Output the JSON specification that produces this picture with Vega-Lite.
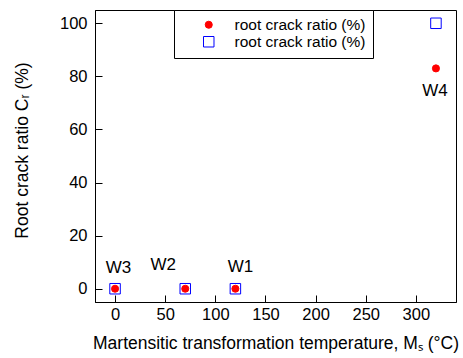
{
  "$schema": "https://vega.github.io/schema/vega-lite/v6.json",
  "width": 361,
  "height": 292,
  "autosize": {"type": "none"},
  "padding": {"left": 95, "top": 10, "right": 7, "bottom": 56},
  "config": {
    "view": {"stroke": "black", "strokeWidth": 1},
    "font": "Liberation Sans"
  },
  "datasets": {
    "pts": [
      {"ms": 0, "cr": 0, "s": "blue"},
      {"ms": 70, "cr": 0, "s": "blue"},
      {"ms": 120, "cr": 0, "s": "blue"},
      {"ms": 320, "cr": 100, "s": "blue"},
      {"ms": 0, "cr": 0, "s": "red"},
      {"ms": 70, "cr": 0, "s": "red"},
      {"ms": 120, "cr": 0, "s": "red"},
      {"ms": 320, "cr": 83, "s": "red"}
    ],
    "labels": [
      {"ms": 3.5, "cr": 7.9, "t": "W3"},
      {"ms": 48, "cr": 9, "t": "W2"},
      {"ms": 125, "cr": 8, "t": "W1"},
      {"ms": 319, "cr": 74.3, "t": "W4"}
    ]
  },
  "layer": [
    {
      "data": {"name": "pts"},
      "mark": {"type": "point", "strokeWidth": 1, "opacity": 1},
      "encoding": {
        "x": {"field": "ms", "type": "quantitative",
          "scale": {"domain": [-20, 340], "nice": false, "zero": false},
          "axis": {"title": "Martensitic transformation temperature, Mₛ (°C)", "grid": false,
            "domainColor": "black", "tickColor": "black", "labelColor": "black", "titleColor": "black",
            "labelFont": "Liberation Sans", "titleFont": "Liberation Sans", "labelFontSize": 16.5, "titleFontSize": 17.5, "titleFontWeight": "normal",
            "tickCount": 7, "tickSize": -7, "labelPadding": 11, "titlePadding": 12}},
        "y": {"field": "cr", "type": "quantitative",
          "scale": {"domain": [-5, 105], "nice": false, "zero": false},
          "axis": {"title": "Root crack ratio Cᵣ (%)", "grid": false,
            "domainColor": "black", "tickColor": "black", "labelColor": "black", "titleColor": "black",
            "labelFont": "Liberation Sans", "titleFont": "Liberation Sans", "labelFontSize": 16.5, "titleFontSize": 17.5, "titleFontWeight": "normal",
            "tickCount": 6, "tickSize": -7, "labelPadding": 15, "titlePadding": 28, "titleY": 140}},
        "shape": {"field": "s", "type": "nominal", "scale": {"domain": ["red", "blue"], "range": ["circle", "square"]},
          "legend": {"title": null, "orient": "none", "legendX": 79, "legendY": 0, "strokeColor": "black", "fillColor": "white", "padding": 7, "symbolOffset": 20, "labelOffset": 18, "labelFontSize": 15.5, "labelFont": "Liberation Sans", "rowPadding": -2, "symbolStrokeWidth": 1,
            "labelExpr": "'root crack ratio (%)'",
            "encode": {"labels": {"update": {"fill": {"signal": "datum.value === 'red' ? '#ff0000' : '#0000ff'"}}}}}},
        "fill": {"field": "s", "type": "nominal", "scale": {"domain": ["red", "blue"], "range": ["#ff0000", "transparent"]},
          "legend": {"title": null, "orient": "none", "legendX": 79, "legendY": 0, "strokeColor": "black", "fillColor": "white", "padding": 7, "symbolOffset": 20, "labelOffset": 18, "labelFontSize": 15.5, "labelFont": "Liberation Sans", "rowPadding": -2, "symbolStrokeWidth": 1,
            "labelExpr": "'root crack ratio (%)'",
            "encode": {"labels": {"update": {"fill": {"signal": "datum.value === 'red' ? '#ff0000' : '#0000ff'"}}}}}},
        "stroke": {"field": "s", "type": "nominal", "scale": {"domain": ["red", "blue"], "range": ["#ff0000", "#0000ff"]},
          "legend": {"title": null, "orient": "none", "legendX": 79, "legendY": 0, "strokeColor": "black", "fillColor": "white", "padding": 7, "symbolOffset": 20, "labelOffset": 18, "labelFontSize": 15.5, "labelFont": "Liberation Sans", "rowPadding": -2, "symbolStrokeWidth": 1,
            "labelExpr": "'root crack ratio (%)'",
            "encode": {"labels": {"update": {"fill": {"signal": "datum.value === 'red' ? '#ff0000' : '#0000ff'"}}}}}},
        "size": {"field": "s", "type": "nominal", "scale": {"domain": ["red", "blue"], "range": [50, 110]},
          "legend": {"title": null, "orient": "none", "legendX": 79, "legendY": 0, "strokeColor": "black", "fillColor": "white", "padding": 7, "symbolOffset": 20, "labelOffset": 18, "labelFontSize": 15.5, "labelFont": "Liberation Sans", "rowPadding": -2, "symbolStrokeWidth": 1,
            "labelExpr": "'root crack ratio (%)'",
            "encode": {"labels": {"update": {"fill": {"signal": "datum.value === 'red' ? '#ff0000' : '#0000ff'"}}}}}}
      }
    },
    {
      "data": {"name": "labels"},
      "mark": {"type": "text", "fontSize": 17, "font": "Liberation Sans", "color": "black", "align": "center", "baseline": "middle"},
      "encoding": {
        "x": {"field": "ms", "type": "quantitative"},
        "y": {"field": "cr", "type": "quantitative"},
        "text": {"field": "t", "type": "nominal"}
      }
    }
  ]
}
